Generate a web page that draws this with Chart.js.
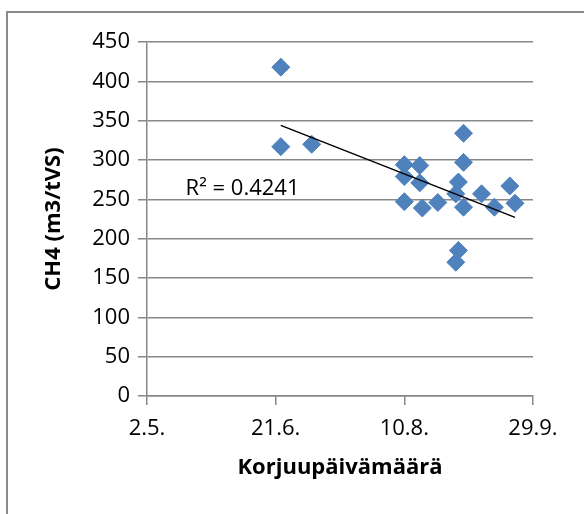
<!DOCTYPE html>
<html>
<head>
<meta charset="utf-8">
<script src="https://cdn.jsdelivr.net/npm/chart.js@4.4.0/dist/chart.umd.min.js"></script>
<style>
    body { margin: 0; background: #fff; }
    canvas { display: block; }
</style>
</head>
<body>
<canvas id="myChart" width="584" height="514"></canvas>
<script>
// Korjuupäivä (vuoden päivä) ja metaanin tuotto
const korjuuPaivat = [174, 174, 186, 222, 228, 222, 228, 222, 229, 235, 245, 245, 243, 242, 245, 252, 257, 263, 265, 243, 242];
const metaaniTuotto = [418, 317, 320, 294, 293, 279, 271, 247, 239, 246, 297, 334, 272, 257, 240, 257, 240, 267, 245, 185, 170];

// Trendiviivan päätepisteet kuvasta luettuna
const trendiPaivat = [174, 265];
const trendiArvot = [344, 227];
const selitysaste = 'R² = 0.4241';

// X-akselin jaotus
const akseliPaivat = [122, 172, 222, 272];
const akseliTekstit = ['2.5.', '21.6.', '10.8.', '29.9.'];

const fontti = "'Open Sans', sans-serif";
const harmaa = '#878787';

// reunaviiva ja R2-teksti
const lisaPiirto = {
    id: 'lisaPiirto',
    beforeDraw(chart) {
        const ctx = chart.ctx;
        ctx.save();
        ctx.strokeStyle = '#8a8a8a';
        ctx.lineWidth = 2;
        ctx.beginPath();
        ctx.moveTo(7, 514);
        ctx.lineTo(7, 12);
        ctx.lineTo(584, 12);
        ctx.stroke();
        ctx.restore();
    },
    afterDatasetsDraw(chart) {
        const ctx = chart.ctx;
        const x = chart.scales.x.getPixelForValue(137);
        const y = chart.scales.y.getPixelForValue(264);
        ctx.save();
        ctx.font = "22px " + fontti;
        ctx.fillStyle = '#000';
        ctx.textBaseline = 'middle';
        ctx.fillText(selitysaste, x, y);
        ctx.restore();
    }
};

const pisteet = korjuuPaivat.map((p, i) => ({ x: p, y: metaaniTuotto[i] }));
const trendi = trendiPaivat.map((p, i) => ({ x: p, y: trendiArvot[i] }));

new Chart(document.querySelector('#myChart'), {
    type: 'scatter',
    data: {
        datasets: [{
            label: 'CH4',
            data: pisteet,
            pointStyle: 'rectRot',
            pointRadius: 9,
            backgroundColor: '#4F81BD',
            borderColor: '#4F81BD',
            borderWidth: 1,
            order: 2
        }, {
            label: 'Trendi',
            type: 'line',
            data: trendi,
            borderColor: '#000',
            borderWidth: 1.5,
            pointRadius: 0,
            fill: false,
            order: 1
        }]
    },
    options: {
        responsive: false,
        animation: false,
        devicePixelRatio: 1,
        layout: { padding: { left: 0, top: 42, right: 51, bottom: 0 } },
        plugins: {
            legend: { display: false },
            tooltip: { enabled: false }
        },
        scales: {
            x: {
                type: 'linear',
                min: 122,
                max: 272,
                afterBuildTicks: (scale) => {
                    scale.ticks = akseliPaivat.map(v => ({ value: v }));
                },
                afterFit: (scale) => { scale.height = 118; },
                grid: {
                    drawOnChartArea: false,
                    drawTicks: true,
                    tickLength: 9,
                    color: harmaa,
                    lineWidth: 1.5
                },
                border: { color: harmaa, width: 1.5 },
                ticks: {
                    color: '#000',
                    padding: 11,
                    maxRotation: 0,
                    font: { family: fontti, size: 22 },
                    callback: (v) => akseliTekstit[akseliPaivat.indexOf(v)]
                },
                title: {
                    display: true,
                    text: 'Korjuupäivämäärä',
                    color: '#000',
                    font: { family: fontti, size: 22, weight: 'bold' },
                    padding: { top: 0, bottom: 33 }
                }
            },
            y: {
                min: 0,
                max: 450,
                afterFit: (scale) => { scale.width = 147; },
                grid: {
                    color: harmaa,
                    lineWidth: 1.5,
                    tickLength: 9
                },
                border: { color: harmaa, width: 1.5 },
                ticks: {
                    stepSize: 50,
                    color: '#000',
                    padding: 8,
                    font: { family: fontti, size: 22 }
                },
                title: {
                    display: true,
                    text: 'CH4 (m3/tVS)',
                    color: '#000',
                    font: { family: fontti, size: 22, weight: 'bold' },
                    padding: { top: 41, bottom: 0 }
                }
            }
        }
    },
    plugins: [lisaPiirto]
});
</script>
</body>
</html>
